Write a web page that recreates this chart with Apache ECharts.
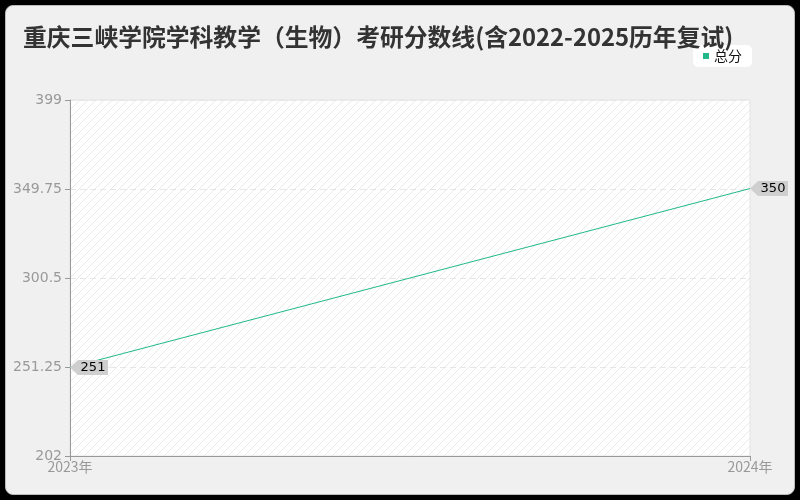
<!DOCTYPE html>
<html>
<head>
<meta charset="utf-8">
<script src="https://cdn.jsdelivr.net/npm/echarts@6/dist/echarts.min.js"></script>
<style>
  html, body { margin: 0; padding: 0; background: #000; width: 800px; height: 500px; overflow: hidden; }
  #chart {
    position: absolute; left: 5px; top: 5px; width: 788px; height: 488px;
    background: #f0f0f0; border: 1px solid #bbb; border-radius: 8px; overflow: hidden;
  }
</style>
</head>
<body>
<div id="chart"></div>
<script>
const years = ["2023年", "2024年"];
const totalScores = [251, 350];
const yMin = 202;
const yMax = 399;
const yStep = 49.25;

// diagonal hatch for plot background
const hatch = document.createElement("canvas");
hatch.width = 8;
hatch.height = 8;
const hc = hatch.getContext("2d");
hc.fillStyle = "#ffffff";
hc.fillRect(0, 0, 8, 8);
hc.strokeStyle = "#e9e9e9";
hc.lineWidth = 1;
hc.beginPath();
hc.moveTo(0, 8); hc.lineTo(8, 0);
hc.moveTo(-4, 4); hc.lineTo(4, -4);
hc.moveTo(4, 12); hc.lineTo(12, 4);
hc.stroke();

const chart = echarts.init(document.getElementById("chart"));

const option = {
  title: {
    text: "重庆三峡学院学科教学（生物）考研分数线(含2022-2025历年复试)",
    left: 12,
    top: 14,
    textStyle: { fontSize: 23.8, fontWeight: "bold", color: "#333", fontFamily: "Noto Sans CJK SC" }
  },
  legend: {
    data: [{ name: "总分", itemStyle: { color: "#1fb88a" } }],
    right: 42,
    top: 39,
    backgroundColor: "#fff",
    borderRadius: 5,
    padding: [4, 10, 4, 10],
    itemWidth: 6,
    itemHeight: 6,
    itemGap: 5,
    icon: "rect",
    textStyle: { fontSize: 14, color: "#111", fontFamily: "Noto Sans CJK SC" }
  },
  grid: {
    left: 64,
    right: 44,
    top: 94,
    bottom: 38,
    show: true,
    backgroundColor: { image: hatch, repeat: "repeat" },
    borderColor: "#e2e2e2",
    borderWidth: 1
  },
  xAxis: {
    type: "category",
    data: years,
    boundaryGap: false,
    axisLine: { lineStyle: { color: "#999" } },
    axisTick: { show: true, lineStyle: { color: "#999" } },
    axisLabel: { color: "#999", fontSize: 14, margin: 4, fontFamily: "Noto Sans CJK SC" },
    splitLine: { show: false }
  },
  yAxis: {
    type: "value",
    min: yMin,
    max: yMax,
    interval: yStep,
    axisLine: { show: true, lineStyle: { color: "#999" } },
    axisTick: { show: true, lineStyle: { color: "#999" } },
    axisLabel: { color: "#999", fontSize: 14, margin: 8, fontFamily: "DejaVu Sans" },
    splitLine: { show: true, lineStyle: { color: "#e6e6e6", type: [6, 4], width: 1 } }
  },
  series: [
    {
      name: "总分",
      type: "line",
      data: totalScores,
      color: "#1fb88a",
      lineStyle: { width: 1, color: "#1fb88a" },
      symbol: "path://M0,7 L8,0 L38,0 L38,14 L8,14 Z",
      symbolSize: [38, 15],
      symbolOffset: [19, 0],
      itemStyle: { color: "#cfcfcf" },
      label: {
        show: true,
        position: "inside",
        offset: [4, 0],
        color: "#000",
        fontSize: 13,
        fontFamily: "DejaVu Sans"
      },
      emphasis: { disabled: true }
    }
  ]
};

chart.setOption(option);
</script>
</body>
</html>
